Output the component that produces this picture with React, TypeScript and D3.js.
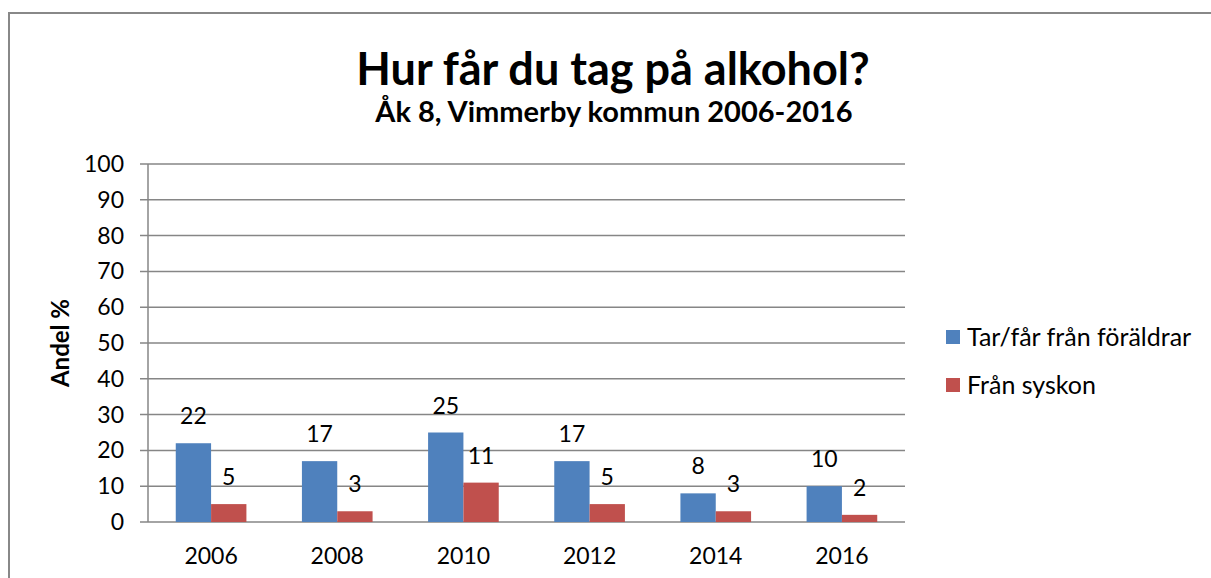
import React from 'react'
import * as d3 from 'd3'

const years = ['2006', '2008', '2010', '2012', '2014', '2016']
const parents = [22, 17, 25, 17, 8, 10]
const siblings = [5, 3, 11, 5, 3, 2]
const seriesNames = ['Tar/får från föräldrar', 'Från syskon']
const yTicks = [0, 10, 20, 30, 40, 50, 60, 70, 80, 90, 100]

const colors = ['#4F81BD', '#C0504D']
const font = 'Lato, "Open Sans", sans-serif'

function App() {
    const W = 1211, H = 578
    const left = 148, right = 905, top = 164, bottom = 522

    const x = d3.scaleBand().domain(years).range([left, right]).paddingInner(0.44).paddingOuter(0.22)
    const x1 = d3.scaleBand().domain(['0', '1']).range([0, x.bandwidth()])
    const y = d3.scaleLinear().domain([0, 100]).range([bottom, top])

    const series = [parents, siblings]

    return (
        <svg width={W} height={H} style={{position: 'absolute', left: 0, top: 0}} fontFamily={font}>
            <rect x={0} y={0} width={W} height={H} fill='white' />
            <rect x={9} y={13} width={W + 20} height={H + 20} fill='none' stroke='#888' strokeWidth={2} />

            <text x={613} y={85} textAnchor='middle' fontSize={45} fontWeight='bold'>Hur får du tag på alkohol?</text>
            <text x={614} y={122} textAnchor='middle' fontSize={29} fontWeight='bold'>Åk 8, Vimmerby kommun 2006-2016</text>

            {yTicks.map(t => (
                <g key={t}>
                    <line x1={left - 8} x2={right} y1={y(t)} y2={y(t)} stroke='#868686' strokeWidth={1.5} />
                    <text x={124} y={y(t)} dy='0.35em' textAnchor='end' fontSize={23}>{t}</text>
                </g>
            ))}
            <line x1={left} x2={left} y1={top} y2={bottom} stroke='#868686' strokeWidth={1.5} />

            {years.map(yr => (
                <text key={yr} x={x(yr)! + x.bandwidth() / 2} y={556} dy='0.35em' textAnchor='middle' fontSize={23}>{yr}</text>
            ))}

            {series.map((vals, si) => (
                <g key={si}>
                    {vals.map((v, i) => {
                        const bx = x(years[i])! + x1(String(si))!
                        return (
                            <g key={i}>
                                <rect x={bx} y={y(v)} width={x1.bandwidth()} height={bottom - y(v)} fill={colors[si]} />
                                <text x={bx + x1.bandwidth() / 2} y={y(v) - 27} dy='0.35em' textAnchor='middle' fontSize={23}>{v}</text>
                            </g>
                        )
                    })}
                </g>
            ))}

            <text transform={`translate(61, ${(top + bottom) / 2}) rotate(-90)`} textAnchor='middle' dy='0.35em' fontSize={24} fontWeight='bold'>Andel %</text>

            {seriesNames.map((n, i) => (
                <g key={n} transform={`translate(946, ${337 + i * 48})`}>
                    <rect x={0} y={-7} width={14} height={14} fill={colors[i]} />
                    <text x={21} y={0} dy='0.35em' fontSize={25}>{n}</text>
                </g>
            ))}
        </svg>
    )
}

export default App
